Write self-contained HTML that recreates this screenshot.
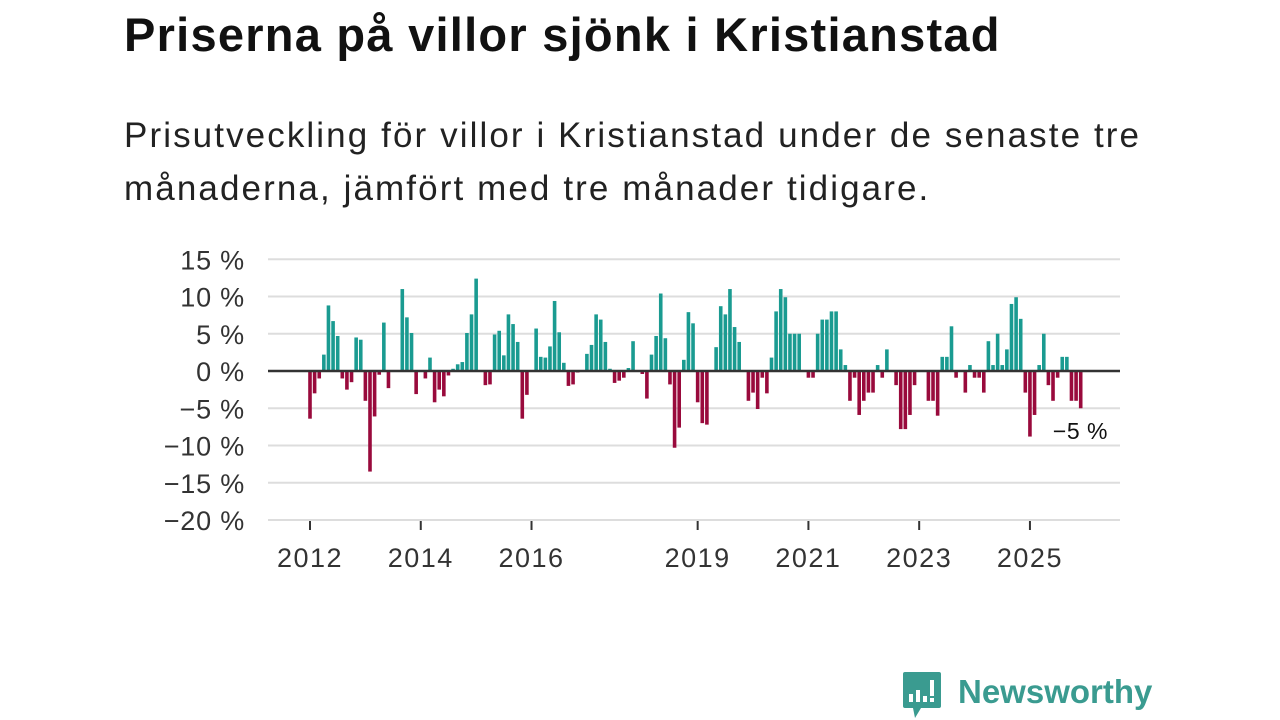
<!DOCTYPE html>
<html><head><meta charset="utf-8">
<style>
body{margin:0;width:1280px;height:720px;background:#fff;font-family:"Liberation Sans","DejaVu Sans",sans-serif;overflow:hidden;position:relative;color:#111}
h1{position:absolute;left:124px;top:7px;margin:0;font-size:47px;font-weight:bold;color:#111;letter-spacing:1.25px}
.sub{position:absolute;left:124px;top:109px;margin:0;font-size:35px;line-height:53px;color:#222;letter-spacing:2.1px}
svg{position:absolute;left:0;top:0}
</style></head><body>
<h1>Priserna på villor sjönk i Kristianstad</h1>
<p class="sub">Prisutveckling för villor i Kristianstad under de senaste tre<br>månaderna, jämfört med tre månader tidigare.</p>
<svg id="chart" width="1280" height="720"></svg>
<div style="position:absolute;left:903px;top:672px;width:260px;height:46px">
<svg width="40" height="48" viewBox="0 0 40 48" style="left:0;top:0">
<path d="M2 0h34a2 2 0 0 1 2 2v32a2 2 0 0 1-2 2H18l-6 10l-2-10H2a2 2 0 0 1-2-2V2a2 2 0 0 1 2-2z" fill="#3a9b90"/>
<rect x="6" y="22" width="4" height="8" fill="#fff"/><rect x="13" y="18" width="4" height="12" fill="#fff"/><rect x="20" y="24" width="4" height="6" fill="#fff"/><rect x="27" y="8" width="4" height="16" fill="#fff"/><rect x="27" y="26" width="4" height="4" fill="#fff"/>
</svg>
<span style="position:absolute;left:55px;top:0;font-size:33px;font-weight:bold;color:#3a9b90;line-height:40px">Newsworthy</span>
</div>
<script>
const values=[-6.4,-3,-1,2.2,8.8,6.7,4.7,-1,-2.5,-1.5,4.5,4.2,-4,-13.5,-6.1,-0.5,6.5,-2.3,0,0,
11,7.2,5.1,-3.1,0,-1,1.8,-4.2,-2.5,-3.4,-0.6,0.3,0.9,1.2,5.1,7.6,12.4,0,-1.9,-1.8,
4.9,5.4,2.1,7.6,6.3,3.9,-6.4,-3.2,0,5.7,1.9,1.8,3.3,9.4,5.2,1.1,-2,-1.8,-0.2,0,
2.3,3.5,7.6,6.9,3.9,0.3,-1.6,-1.3,-0.9,0.4,4.0,0,-0.4,-3.7,2.2,4.7,10.4,4.4,-1.8,-10.3,
-7.6,1.5,7.9,6.4,-4.2,-7,-7.2,0,3.2,8.7,7.6,11,5.9,3.9,0,-4,-2.9,-5.1,-0.9,-3,
1.8,8,11,9.9,5,5,5,0,-0.9,-0.9,5,6.9,6.9,8,8,2.9,0.8,-4,-0.9,-5.9,
-4,-2.9,-2.9,0.8,-0.9,2.9,0,-1.9,-7.8,-7.8,-5.9,-1.9,0,0,-4,-4,-6,1.9,1.9,6,
-0.9,0,-2.9,0.8,-0.9,-0.9,-2.9,4,0.8,5,0.8,2.9,9,9.9,7,-2.9,-8.8,-5.9,0.8,5,
-1.9,-4,-0.9,1.9,1.9,-4,-4,-5];
const startYear=2012;
const yTicks=[15,10,5,0,-5,-10,-15,-20];
const xTickYears=[2012,2014,2016,2019,2021,2023,2025];
const lastLabel="−5 %";
const NS="http://www.w3.org/2000/svg";
const svg=document.getElementById('chart');
const y=v=>371-v*7.45;
const x=m=>310+m*4.615;
function el(t,a){const e=document.createElementNS(NS,t);for(const k in a)e.setAttribute(k,a[k]);svg.appendChild(e);return e;}
yTicks.forEach(t=>{
  const g=el('line',{x1:268,x2:1120,y1:y(t),y2:y(t),stroke:'#ddd','stroke-width':2});
  
  
  const tx=el('text',{x:245,y:y(t)+10,'text-anchor':'end','font-size':27,'letter-spacing':0.8,fill:'#333','font-family':'Liberation Sans, sans-serif'});
  tx.textContent=(t<0?'−'+(-t):t)+' %';
  
  
});
values.forEach((v,i)=>{
  if(v===0)return;
  const r=el('rect',{x:x(i)-1.8,width:3.6,y:v>0?y(v):y(0),height:Math.abs(y(v)-y(0)),fill:v>0?'#1a9b91':'#990a3c'});
  
  
});
const zl=el('line',{x1:268,x2:1120,y1:y(0),y2:y(0),stroke:'#333','stroke-width':2.5});


xTickYears.forEach(yr=>{
  const px=x((yr-startYear)*12);
  const t=el('line',{x1:px,x2:px,y1:521,y2:530,stroke:'#333','stroke-width':2});
  
  
  const tx=el('text',{x:px,y:567,'text-anchor':'middle','font-size':27,'letter-spacing':1.5,fill:'#333','font-family':'Liberation Sans, sans-serif'});
  tx.textContent=yr;
  
  
});
const ll=el('text',{x:1108,y:439,'text-anchor':'end','font-size':23,'letter-spacing':0.5,fill:'#111','font-family':'Liberation Sans, sans-serif'});
ll.textContent=lastLabel;


</script>
</body></html>
